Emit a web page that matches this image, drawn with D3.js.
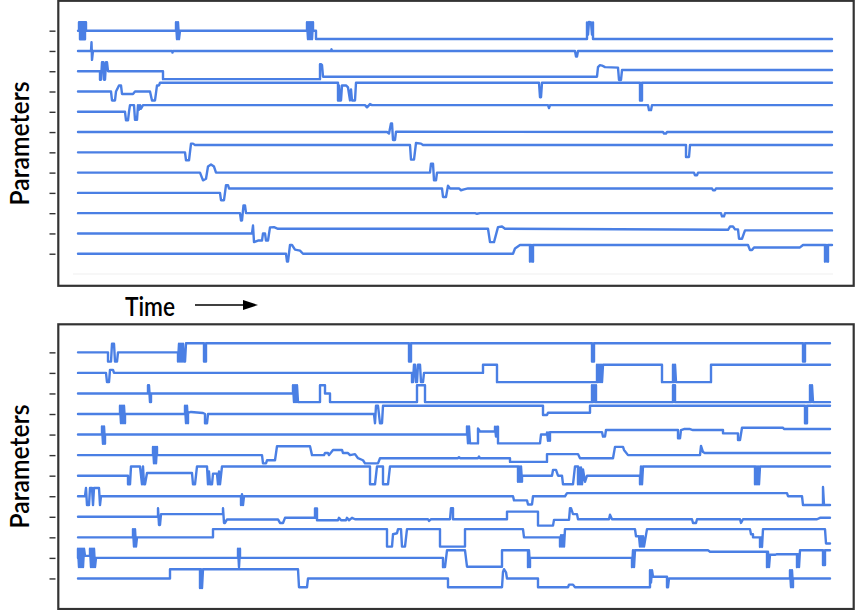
<!doctype html>
<html>
  <head>
    <meta charset="utf-8">
    <title>Parameters over time</title>
    <script src="https://cdn.jsdelivr.net/npm/d3@7/dist/d3.min.js"></script>
    <style>
      body { margin: 0; background: #fff; }
      .frame { fill: none; stroke: #333; stroke-width: 2.2; }
      .tick line { stroke: #333; stroke-width: 1.4; }
      .trace { fill: none; stroke: #4a7fe4; stroke-width: 2.4; stroke-linejoin: round; stroke-linecap: round; }
      .label { font-family: Lato, "Open Sans", sans-serif; font-size: 26px; font-weight: 600; fill: #000; }
    </style>
  </head>
  <body>
    <svg id="chart" width="855" height="610"></svg>

<script>
// time in samples (0..754), value = deviation from the parameter's own lane (1 = one lane)
var timeDomain = [0, 754];
var laneTicks = [1, 2, 3, 4, 5, 6, 7, 8, 9, 10, 11, 12];

var topTraces = [
  [[0,0],[1,0],[1,0.42],[2,0.42],[2,-0.42],[3,-0.42],[3,0.42],[4,0.42],[4,-0.42],[5,-0.42],[5,0.42],[6,0.42],[6,-0.42],[7,-0.42],[7,0.42],[8,0.42],[8,0],
   [98,0],[98,0.42],[99,-0.42],[100,0.42],[101,-0.42],[102,0],
   [229,0],[229,0.42],[230,-0.42],[231,0.42],[232,-0.42],[233,0.42],[234,-0.42],[235,0.42],[235,0],[238,0],[238,-0.41],
   [509,-0.41],[509,0.41],[510,-0.2],[511,0.43],[513,0.41],[514,-0.2],[515,0.41],[515,-0.41],[754,-0.41]],
  [[0,0],[13,0],[13.5,0.43],[14,-0.44],[15,0],[94,0],[94.5,-0.08],[95,0],[253,0],[253.5,0.08],[254,0],
   [497,0],[498,-0.28],[499,-0.28],[500,0],[754,0]],
  [[0,0],[22,0],[22,-0.42],[23,-0.42],[24,0.44],[25.5,0.44],[26,-0.42],[27,-0.42],[28,0.44],[29,0.44],[30,0],
   [85,0],[85,-0.39],[242,-0.39],[242,0.35],[243,0.35],[244,0.3],[245,-0.27],
   [519,-0.27],[520,0.2],[522,0.3],[524,0.28],[527,0.2],[540,0.18],[541,-0.43],[543,-0.43],[544,0.06],[754,0.06]],
  [[0,0],[33,0],[34,-0.44],[37,-0.44],[38,0],[41,0.3],[43,0.3],[44,-0.12],[55,-0.12],[57,0],[72,0],[74,-0.44],[77,-0.44],[79,0.3],[81,0.3],[82,0.43],
   [260,0.43],[260,-0.44],[261,-0.44],[261,0.3],[262,-0.44],[263,-0.44],[264,0.3],[268,0.3],[270,0.2],[272,-0.44],[273,0.1],[274,-0.44],[277,-0.44],[278,0.43],
   [461,0.43],[462,-0.28],[463,-0.28],[464,0.43],[562,0.43],[562,-0.44],[564,-0.44],[564,0.43],[754,0.43]],
  [[0,0],[47,0],[48,-0.42],[50,-0.42],[51,0],[52,0.33],[56,0.33],[57,-0.4],[59,-0.4],[60,0.33],[61,0.1],[62,0.33],[63,0.15],[65,0.33],
   [287,0.33],[289,0.22],[292,0.38],[294,0.33],[470,0.33],[471,0.18],[472,0.33],
   [570,0.33],[571,0.08],[573,0.08],[574,0.33],[754,0.33]],
  [[0,0],[309,0],[311,-0.07],[313,0.43],[314,0.43],[315,-0.39],[317,-0.39],[318,0.02],[585,0],[586,-0.07],[588,-0.07],[589,0],[754,0]],
  [[0,0],[107,0],[108,-0.39],[111,-0.39],[113,0.43],[115,0.43],[117,0.36],[332,0.36],[333,-0.36],[336,-0.36],[338,0.46],[343,0.43],[345,0.36],
   [608,0.36],[608,-0.23],[611,-0.23],[612,0.36],[754,0.36]],
  [[0,0],[122,0],[125,-0.38],[128,-0.3],[130,0.3],[133,0.4],[136,0.3],[138,0],[352,0],[353,0.44],[355,0.44],[356,-0.38],[358,-0.38],[359,0],
   [616,0],[617,-0.13],[619,-0.13],[620,0],[754,0]],
  [[0,0],[142,0],[143,-0.36],[146,-0.36],[148,0.38],[150,0.38],[151,0.22],[364,0.22],[365,-0.2],[368,-0.2],[370,0.35],[372,0.22],
   [381,0.22],[383,0.13],[386,0.17],[390,0.22],[634,0.22],[635,0.13],[637,0.13],[638,0.22],[754,0.22]],
  [[0,0],[162,0],[163,-0.36],[164,-0.36],[165.5,0.38],[167,0.38],[168,0],[397,0],[399,-0.03],[402,0],[643,0],[644,-0.16],[646,-0.16],[647,0],[754,0]],
  [[0,0],[174,0],[175,0.39],[176,-0.43],[180,-0.35],[184,-0.35],[185,0],[187,0],[188,-0.35],[190,-0.35],[192,0.3],[196,0.31],[200,0.23],
   [410,0.23],[412,-0.43],[416,-0.43],[420,0.31],[424,0.34],[427,0.23],
   [650,0.18],[652,0.34],[655,0.34],[657,0.2],[660,0.2],[661,-0.26],[664,-0.26],[667,0.15],[754,0.15]],
  [[0,0],[208,0],[209,-0.39],[210,-0.39],[212,0.43],[214,0.43],[217,0.2],[222,0.15],[225,0],[435,0],[437,0.26],[442,0.43],
   [452,0.43],[452,-0.39],[453,0.43],[454,-0.39],[455,-0.39],[455,0.43],[670,0.43],[672,0.18],[674,0.18],[676,0.31],[722,0.31],[725,0.43],
   [747,0.43],[747,-0.39],[748,0.43],[749,-0.39],[750,-0.39],[750,0.43],[754,0.43]]
];

var bottomTraces = [
  [[0,0],[30,0],[30,-0.45],[33,-0.45],[34,0.42],[36,0.42],[37,-0.45],[39,-0.45],[40,0],
   [100,0],[100,-0.45],[101,0.42],[102,-0.45],[103,0.42],[104,-0.45],[105,0.42],[106,-0.45],[107,-0.45],[108,0.44],
   [126,0.44],[126,-0.45],[128,-0.45],[128,0.44],[331,0.44],[331,-0.45],[333,-0.45],[333,0.44],
   [514,0.44],[514,-0.45],[516,-0.45],[516,0.44],[725,0.44],[725,-0.45],[727,-0.45],[727,0.44],[752,0.44]],
  [[0,0],[28,0],[29,-0.45],[31,-0.45],[32,0.15],[35,0.15],[36,0],
   [334,0],[334,-0.45],[335,-0.45],[336,0.4],[337,0.4],[338,-0.45],[339,-0.45],[340,0.4],[342,0.4],[343,-0.45],[345,-0.45],[346,0],
   [405,0],[405,0.4],[419,0.4],[419,-0.45],[519,-0.45],[519,0.4],[520,-0.45],[521,0.4],[522,-0.45],[523,0.4],[524,-0.45],[525,0.4],
   [584,0.4],[584,-0.45],[595,-0.45],[595,0.4],[596,-0.45],[597,0.4],[598,-0.45],[633,-0.45],[633,0.4],[752,0.4]],
  [[0,0],[70,0],[70,0.4],[71,0.4],[72,-0.42],[73,-0.42],[73,0],
   [215,0],[215,0.4],[216,-0.42],[217,0.4],[218,-0.42],[219,0.4],[220,-0.42],[242,-0.42],[242,0.4],[247,0.4],[247,0],[252,0],[252,-0.42],
   [339,-0.42],[339,0.4],[347,0.4],[347,-0.42],[514,-0.42],[514,0.4],[515,-0.42],[516,0.4],[517,-0.42],[518,0.4],[518,-0.42],
   [595,-0.42],[595,0.4],[597,0.4],[597,-0.42],[732,-0.42],[732,0.4],[733,-0.42],[734,0.4],[735,-0.42],[752,-0.42]],
  [[0,0],[42,0],[42,0.4],[43,-0.45],[44,0.4],[45,-0.45],[46,0.4],[47,-0.45],[47,0],
   [107,0],[107,0.4],[108,-0.45],[109,0.4],[110,-0.45],[110,0.05],[113,0.1],[125,0.05],[127,0],[127,-0.45],[129,-0.45],[130,0],
   [296,0],[297,-0.45],[298,0.4],[300,0.4],[302,-0.45],[304,-0.45],[305,0.4],
   [465,0.4],[465,-0.05],[469,-0.05],[470,0.06],[512,0.06],[512,0.4],[727,0.4],[727,-0.45],[729,-0.45],[729,0.4],[752,0.4]],
  [[0,0],[24,0],[24,0.4],[25,-0.45],[26,0.4],[27,-0.45],[27,0],
   [389,0],[389,0.4],[390,-0.43],[391,0.4],[392,-0.43],[400,-0.43],[400,0.3],[402,0.15],[417,0.15],[417,0.38],[418,-0.1],[419,0.38],[420,0.38],[420,-0.43],
   [462,-0.43],[463,0],[469,0],[469,0.1],[470,-0.3],[471,0.1],[472,-0.3],[472,0.12],[524,0.12],[525,-0.1],[527,-0.1],[528,0.22],
   [600,0.22],[600,-0.18],[602,-0.18],[603,0.22],[606,0.27],[612,0.27],[615,0.22],[645,0.22],[645,0.06],[660,0.06],[660,-0.27],[662,-0.27],[664,0.33],
   [705,0.33],[706,0.27],[752,0.27]],
  [[0,0],[75,0],[75,0.4],[76,-0.4],[77,0.4],[78,-0.4],[79,0.4],[79,0],
   [184,0],[185,-0.4],[188,-0.4],[189,-0.25],[197,-0.25],[199,0.43],[232,0.43],[234,0],[246,0],[247,0.1],[250,0.1],[251,0],[255,0.25],[264,0.25],
   [265,0.1],[270,0.1],[272,0],[277,0.05],[280,-0.15],[285,-0.25],[287,-0.4],[300,-0.4],[302,-0.15],
   [380,-0.15],[381,-0.1],[382,-0.15],[400,-0.15],[401,-0.07],[402,-0.15],[432,-0.15],[432,-0.33],[469,-0.33],[469,0.05],[500,0.05],[502,-0.15],
   [535,-0.15],[537,0.4],[545,0.4],[546,0.25],[550,0],[622,0],[623,0.45],[625,0.15],[627,0.1],[752,0.1]],
  [[0,0],[50,0],[50,-0.42],[52,-0.42],[53,0.45],[62,0.45],[64,-0.42],[65,0.45],[66,-0.42],[67,-0.42],[69,0.13],
   [114,0.13],[115,-0.42],[117,-0.42],[119,0.45],[129,0.45],[130,-0.42],[131,0.2],[132,-0.42],[134,-0.42],[135,0.1],[139,0.1],[140,-0.42],[141,0.2],[142,-0.42],[144,0.45],
   [292,0.45],[292,-0.42],[297,-0.42],[299,0.45],[305,0.45],[305,-0.42],[310,-0.42],[312,0.45],
   [440,0.45],[440,-0.3],[441,0.45],[442,-0.3],[443,0.45],[444,-0.3],[444,0],[474,0],[475,0.28],[478,0.28],[480,0],[484,0],[485,-0.42],[495,-0.42],[497,0.45],
   [500,0.45],[500,-0.42],[501,0.4],[502,-0.42],[503,0.4],[504,-0.42],[505,0.3],[507,-0.3],[509,0],[562,0],[562,-0.42],[563,0.45],[564,-0.42],[565,0.45],
   [677,0.45],[677,-0.42],[678,0.45],[679,-0.42],[680,0.45],[681,-0.42],[682,0.45],[752,0.45]],
  [[0,0],[7,0],[8,0.4],[9,-0.43],[11,-0.43],[12,0.4],[14,0.4],[15,-0.43],[16,0.4],[21,0.4],[22,-0.43],[23,0],
   [163,0],[163,-0.43],[164,0.1],[165,-0.43],[166,0],
   [435,0],[436,-0.2],[449,-0.2],[450,-0.4],[454,-0.4],[455,0],[487,0],[489,0.15],[709,0.15],[710,0],[724,0],[725,-0.43],
   [745,-0.43],[745,0.45],[746,-0.43],[752,-0.43]],
  [[0,0],[80,0],[80,0.42],[81,-0.4],[82,-0.4],[83,0.13],[145,0.13],[145,0.42],[146,-0.3],[147,-0.3],[149,-0.13],[200,-0.13],[202,-0.3],[205,-0.3],[207,-0.05],
   [237,-0.05],[237,0.4],[239,0.4],[239,-0.17],[260,-0.17],[261,-0.05],[263,-0.17],[268,-0.17],[269,-0.05],[271,-0.17],[274,-0.05],[277,-0.12],
   [350,-0.12],[351,-0.2],[353,-0.12],[372,-0.12],[373,0.42],[375,0.42],[375,-0.12],[429,-0.12],[429,0.25],[460,0.25],[460,-0.43],[475,-0.43],[476,-0.15],
   [491,-0.15],[492,0.42],[493,0.42],[495,0.13],[499,0.13],[500,-0.12],[531,-0.12],[532,0.1],[534,-0.12],[614,-0.12],[615,-0.3],[618,-0.3],[619,-0.12],
   [662,-0.12],[663,-0.3],[665,-0.12],[739,-0.12],[742,-0.05],[752,-0.05]],
  [[0,0],[55,0],[55,0.4],[56,-0.45],[57,0.4],[58,-0.45],[59,0],[135,0],[135,0.4],
   [309,0.4],[309,-0.45],[314,-0.45],[315,0.15],[319,0.2],[320,0.4],[323,0.4],[324,-0.45],[327,-0.45],[329,0.4],[362,0.4],[362,-0.45],[387,-0.45],[387,0.4],
   [445,0.4],[446,0],[482,0],[482,-0.45],[483,0.1],[484,-0.45],[485,0.1],[486,-0.45],[487,0.4],
   [557,0.4],[558,0.05],[561,0.05],[562,-0.45],[563,0.05],[564,-0.45],[565,0.05],[566,-0.45],[569,0.4],
   [672,0.4],[673,0.15],[675,0.15],[675,0],[682,0],[682,-0.47],[683,0],[684,-0.47],[685,0.4],[747,0.4],[748,-0.3],[752,-0.3]],
  [[0,0],[0,0.45],[1,-0.45],[2,0.45],[3,-0.45],[4,0.45],[5,-0.45],[6,0.45],[7,0.1],[12,0.1],[12,0.45],[13,-0.45],[14,0.45],[15,-0.45],[16,0.45],[17,-0.45],[18,0],
   [160,0],[160,0.45],[161,-0.45],[162,0.45],[162,0],
   [365,0],[365,-0.45],[367,-0.45],[369,0.37],[387,0.37],[389,-0.43],[424,-0.43],[424,0.37],[450,0.37],[450,-0.45],[451,0.37],[452,-0.45],[452,0],
   [554,0],[554,-0.45],[555,0.37],[556,-0.45],[557,0.37],[630,0.37],[632,0.3],[689,0.3],[689,-0.45],[690,0.3],[691,-0.45],[692,0.15],[697,0.15],[699,0.18],
   [719,0.18],[719,-0.45],[720,0.18],[721,-0.45],[722,0.37],[745,0.37],[745,-0.35],[747,-0.35],[747,0.37],[752,0.37]],
  [[0,0],[92,0],[92,0.45],[122,0.45],[122,-0.47],[123,0.45],[124,-0.47],[125,0.45],[220,0.45],[221,-0.43],[229,-0.43],[230,0],
   [370,0],[370,-0.43],[424,-0.43],[425,0.32],[426,0.45],[428,0.3],[429,0],[460,0],[460,-0.43],[490,-0.43],[491,-0.3],[495,-0.3],[497,-0.43],
   [572,-0.43],[572,0.4],[573,-0.2],[574,0.4],[575,0.08],[589,0.08],[589,-0.43],[590,-0.43],[591,0],
   [712,0],[712,0.4],[713,-0.43],[714,0.4],[715,-0.43],[715,0],[752,0]]
];

var svg = d3.select('#chart');
var x = d3.scaleLinear().domain(timeDomain).range([78, 832]);

var panels = [
  { traces: topTraces, top: 0.8, bottom: 285.8, lanes: [10.4, 274], label: 143.5, base: true },
  { traces: bottomTraces, top: 324.3, bottom: 609, lanes: [331.8, 599], label: 466.5, base: false }
];

panels.forEach(function(p) {
  var y = d3.scaleLinear().domain([0, 13]).range(p.lanes);
  var g = svg.append('g');

  if (p.base) {
    g.append('line')
      .attr('x1', x(-5)).attr('x2', x(755))
      .attr('y1', y(13)).attr('y2', y(13))
      .attr('stroke', '#efefef').attr('stroke-width', 1);
  }

  p.traces.forEach(function(pts, i) {
    var lane = i + 1;
    var line = d3.line()
      .x(function(d) { return x(d[0]); })
      .y(function(d) { return y(lane - d[1]); });
    g.append('path').attr('class', 'trace').attr('d', line(pts));
  });

  var axis = d3.axisLeft(y).tickValues(laneTicks).tickSize(6).tickFormat('');
  var ax = g.append('g').attr('transform', 'translate(55.5,0)').call(axis);
  ax.select('.domain').remove();

  g.append('rect').attr('class', 'frame')
    .attr('x', 58.3).attr('y', p.top)
    .attr('width', 853.7 - 58.3).attr('height', p.bottom - p.top);

  g.append('text').attr('class', 'label')
    .attr('transform', 'translate(28.5,' + p.label + ') rotate(-90)')
    .attr('text-anchor', 'middle')
    .attr('textLength', 124).attr('lengthAdjust', 'spacingAndGlyphs')
    .text('Parameters');
});

// time caption between the panels
svg.append('text').attr('class', 'label')
  .attr('x', 125).attr('y', 316)
  .attr('textLength', 50).attr('lengthAdjust', 'spacingAndGlyphs')
  .text('Time');
svg.append('line')
  .attr('x1', 195).attr('x2', 246).attr('y1', 305).attr('y2', 305)
  .attr('stroke', '#000').attr('stroke-width', 1.5);
svg.append('path')
  .attr('d', 'M243,300 L258,305 L243,310 Z')
  .attr('fill', '#000');
</script>
  </body>
</html>
